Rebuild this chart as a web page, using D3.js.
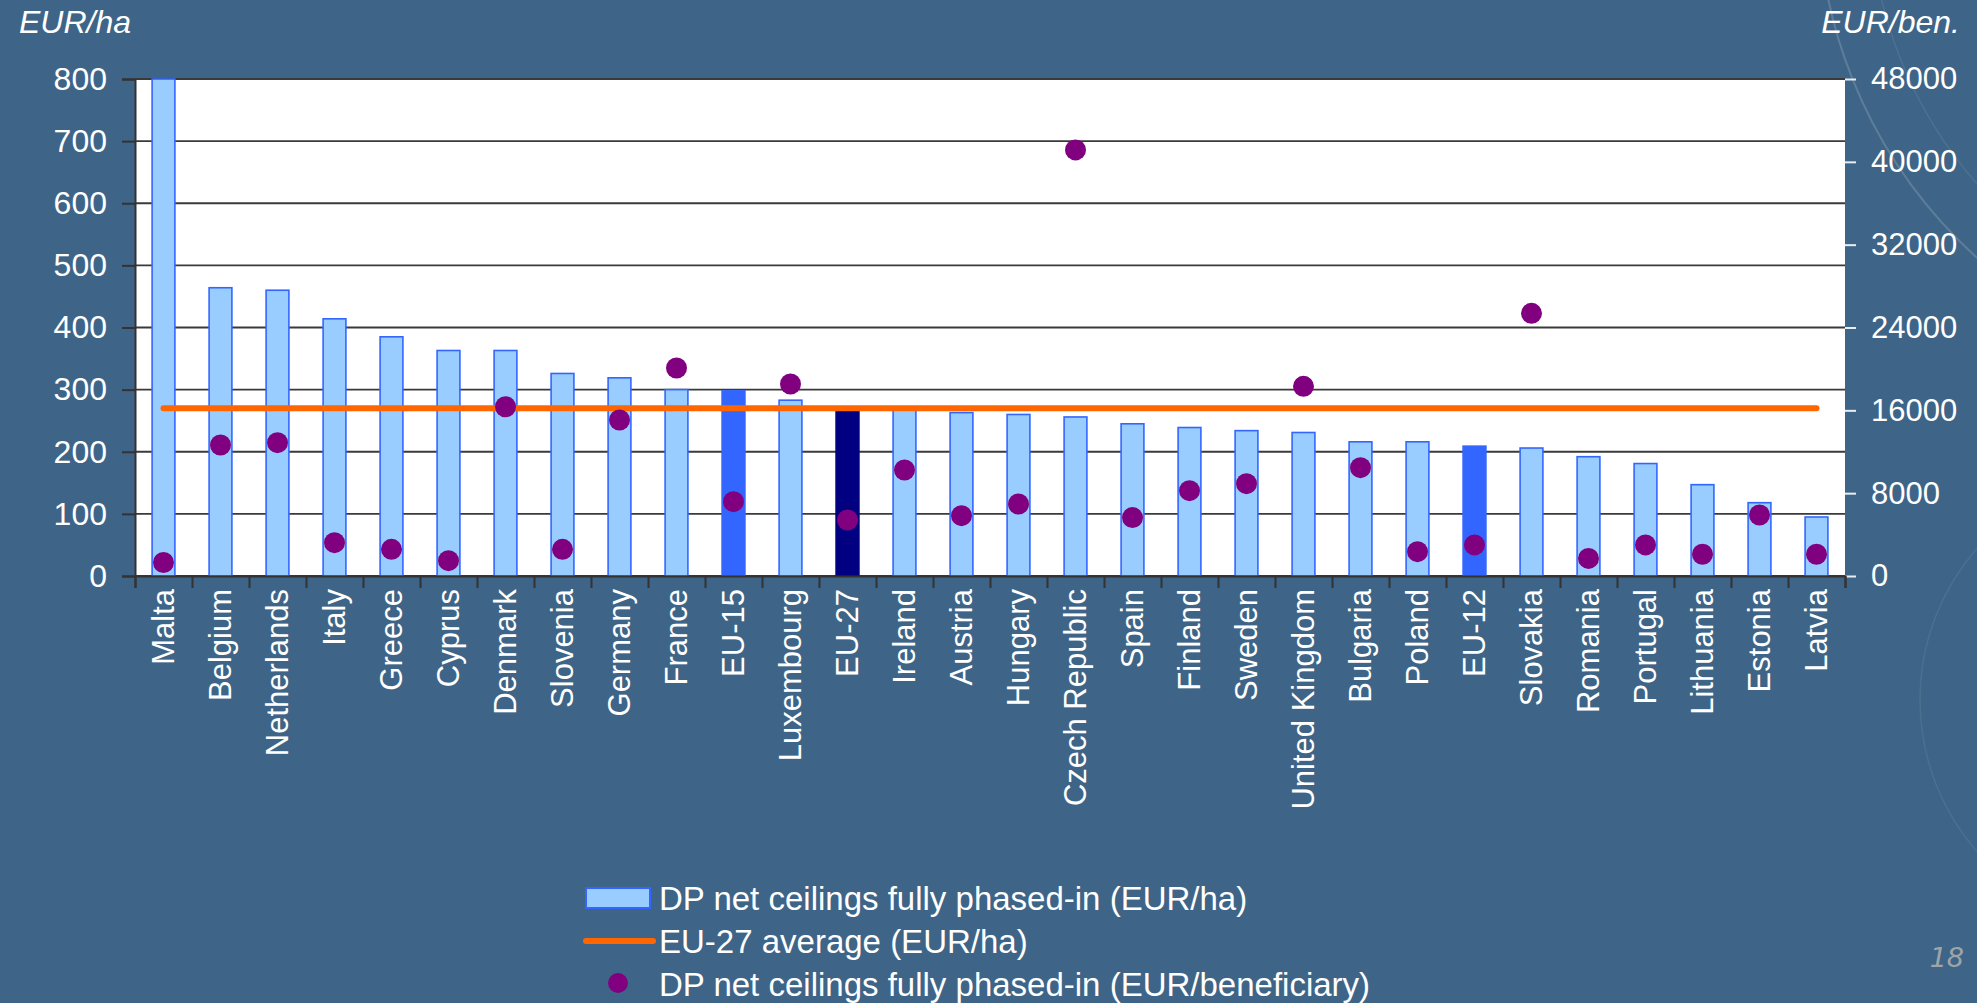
<!DOCTYPE html>
<html>
<head>
<meta charset="utf-8">
<script src="https://cdn.jsdelivr.net/npm/d3@7"></script>
<style>
  html, body { margin: 0; padding: 0; background: #3e6587; }
  svg { display: block; }
  text { font-family: "Liberation Sans", Arial, sans-serif; }
</style>
</head>
<body>
<svg id="chart" width="1977" height="1003"></svg>
<script>
// ---- data ----
const categories = ["Malta","Belgium","Netherlands","Italy","Greece","Cyprus","Denmark","Slovenia","Germany","France","EU-15","Luxembourg","EU-27","Ireland","Austria","Hungary","Czech Republic","Spain","Finland","Sweden","United Kingdom","Bulgaria","Poland","EU-12","Slovakia","Romania","Portugal","Lithuania","Estonia","Latvia"];
const eurPerHa = [800,464,460,414,385,363,363,326,319,300,298,283,270,268,263,260,256,245,239,234,231,216,216,209,206,192,181,147,118,95];
const eurPerBen = [1300,12650,12880,3220,2575,1480,16350,2575,15070,20090,7180,18540,5410,10240,5830,6950,41150,5640,8240,8920,18320,10460,2350,3000,25370,1700,3000,2100,5890,2100];
const eu27Average = 270;
const leftTicks = [0,100,200,300,400,500,600,700,800];
const rightTicks = [0,8000,16000,24000,32000,40000,48000];
const highlightBright = ["EU-15","EU-12"];
const highlightDark = ["EU-27"];
const legendLabels = ["DP net ceilings fully phased-in (EUR/ha)","EU-27 average (EUR/ha)","DP net ceilings fully phased-in (EUR/beneficiary)"];

// ---- layout ----
const svg = d3.select("#chart");
const L = 135, R = 1845, T = 79, B = 576;
const FS = 32;

// decorative background arcs
const deco = svg.append("g").attr("fill","none").attr("stroke","#ffffff");
deco.append("circle").attr("cx",2300).attr("cy",-100).attr("r",482).attr("stroke-opacity",0.16).attr("stroke-width",2);
deco.append("circle").attr("cx",2300).attr("cy",-100).attr("r",430).attr("stroke-opacity",0.08).attr("stroke-width",1.5);
deco.append("circle").attr("cx",2150).attr("cy",700).attr("r",230).attr("stroke-opacity",0.07).attr("stroke-width",1.5);

const x = d3.scaleBand().domain(categories).range([L,R]).paddingInner(0.6).paddingOuter(0.3);
const xEdge = d3.scaleLinear().domain([0,categories.length]).range([L,R]);
const yL = d3.scaleLinear().domain([0,800]).range([B,T]);
const yR = d3.scaleLinear().domain([0,48000]).range([B,T]);

// plot background
svg.append("rect").attr("x",L).attr("y",T).attr("width",R-L).attr("height",B-T).attr("fill","#ffffff");

// gridlines
svg.append("g").selectAll("line").data(leftTicks).join("line")
  .attr("x1",L).attr("x2",R)
  .attr("y1",d=>yL(d)).attr("y2",d=>yL(d))
  .attr("stroke","#3a3a3a").attr("stroke-width",1.8);

// bars
svg.append("g").selectAll("rect").data(categories).join("rect")
  .attr("x",d=>x(d))
  .attr("y",(d,i)=>yL(eurPerHa[i]))
  .attr("width",x.bandwidth())
  .attr("height",(d,i)=>yL(0)-yL(eurPerHa[i]))
  .attr("fill",d=>highlightDark.includes(d)?"#000080":(highlightBright.includes(d)?"#3366ff":"#99ccff"))
  .attr("stroke",d=>highlightDark.includes(d)?"#000080":"#3366ff")
  .attr("stroke-width",1.6);

// EU-27 average line
svg.append("line")
  .attr("x1",x(categories[0])+x.bandwidth()/2)
  .attr("x2",x(categories[categories.length-1])+x.bandwidth()/2)
  .attr("y1",yL(eu27Average)).attr("y2",yL(eu27Average))
  .attr("stroke","#ff6600").attr("stroke-width",6).attr("stroke-linecap","round");

// dots
svg.append("g").selectAll("circle").data(categories).join("circle")
  .attr("cx",d=>x(d)+x.bandwidth()/2)
  .attr("cy",(d,i)=>yR(eurPerBen[i]))
  .attr("r",10.5)
  .attr("fill","#800080");

// left axis
const gL = svg.append("g").attr("transform",`translate(${L},0)`)
  .call(d3.axisLeft(yL).tickValues(leftTicks).tickSize(13).tickPadding(15).tickFormat(d3.format("d")));
gL.select(".domain").attr("stroke","#333333").attr("stroke-width",2);
gL.selectAll(".tick line").attr("stroke","#333333").attr("stroke-width",2);
gL.selectAll("text").attr("fill","#ffffff").style("font-size",FS+"px").style("font-family","'Liberation Sans', Arial, sans-serif");

// right axis
const gR = svg.append("g").attr("transform",`translate(${R},0)`)
  .call(d3.axisRight(yR).tickValues(rightTicks).tickSize(11).tickPadding(15).tickFormat(d3.format("d")));
gR.select(".domain").remove();
gR.selectAll(".tick line").attr("stroke","#e8eef4").attr("stroke-width",2);
gR.selectAll("text").attr("fill","#ffffff").style("font-size","31px").style("font-family","'Liberation Sans', Arial, sans-serif");

// bottom axis (ticks at category boundaries)
const gB = svg.append("g").attr("transform",`translate(0,${B})`)
  .call(d3.axisBottom(xEdge).tickValues(d3.range(categories.length+1)).tickSize(12).tickFormat(""));
gB.select(".domain").attr("stroke","#333333").attr("stroke-width",2);
gB.selectAll(".tick line").attr("stroke","#333333").attr("stroke-width",2);

// category labels
svg.append("g").selectAll("text").data(categories).join("text")
  .attr("transform",d=>`translate(${x(d)+x.bandwidth()/2},${B+13}) rotate(-90)`)
  .attr("text-anchor","end")
  .attr("dy","0.35em")
  .attr("fill","#ffffff")
  .style("font-size","31px")
  .text(d=>d);

// axis titles
svg.append("text").attr("x",19).attr("y",33).attr("fill","#ffffff")
  .style("font-size",FS+"px").style("font-style","italic").text("EUR/ha");
svg.append("text").attr("x",1960).attr("y",33).attr("text-anchor","end").attr("fill","#ffffff")
  .style("font-size",FS+"px").style("font-style","italic").text("EUR/ben.");

// legend
const lg = svg.append("g");
lg.append("rect").attr("x",586).attr("y",888).attr("width",64).attr("height",20)
  .attr("fill","#99ccff").attr("stroke","#3366ff").attr("stroke-width",2);
lg.append("line").attr("x1",586).attr("x2",653).attr("y1",941).attr("y2",941)
  .attr("stroke","#ff6600").attr("stroke-width",6).attr("stroke-linecap","round");
lg.append("circle").attr("cx",618).attr("cy",983).attr("r",10).attr("fill","#800080");
lg.selectAll("text").data(legendLabels).join("text")
  .attr("x",659).attr("y",(d,i)=>898+i*43).attr("dy","0.36em")
  .attr("fill","#ffffff").style("font-size","33px").text(d=>d);

// page number
svg.append("text").attr("x",1964).attr("y",967).attr("text-anchor","end")
  .attr("fill","#a0a4a8").style("font-size","27px").style("font-family","'DejaVu Sans', sans-serif")
  .style("font-style","italic").text("18");
</script>
</body>
</html>
